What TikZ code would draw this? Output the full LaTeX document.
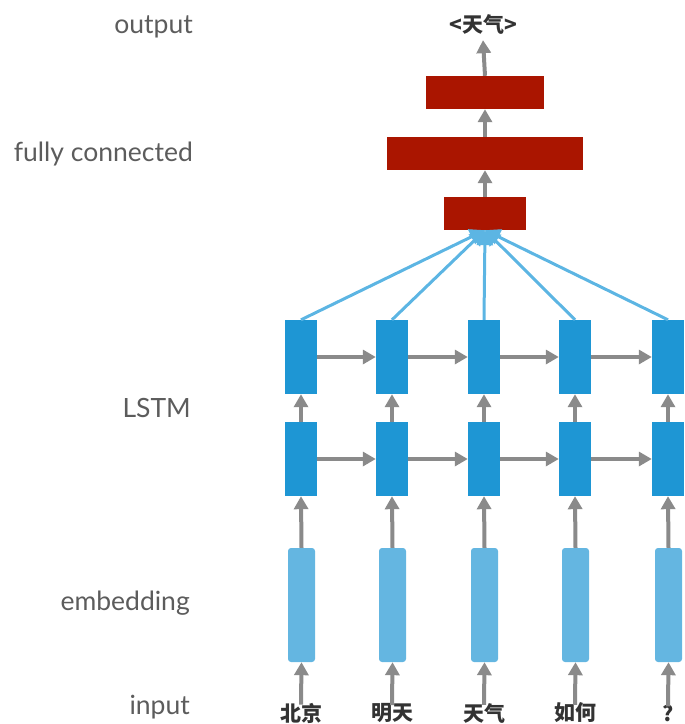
\documentclass[tikz,border=0pt]{standalone}
\usepackage{fontspec}
\setmainfont{Lato}
\newfontfamily\cjk{Noto Sans CJK SC}
\usetikzlibrary{arrows.meta}
\definecolor{fcred}{HTML}{AA1500}
\definecolor{lstmblue}{HTML}{1E96D4}
\definecolor{embblue}{HTML}{64B6E1}
\definecolor{linkblue}{HTML}{5CB5E3}
\definecolor{arrowgray}{HTML}{8A8A8A}
\definecolor{labelgray}{HTML}{5C5C5C}
\definecolor{wordgray}{HTML}{333333}
\begin{document}
\begin{tikzpicture}[x=1pt,y=-1pt,
  fcbox/.style={fill=fcred,draw=none,minimum height=33pt,inner sep=0pt},
  cell/.style={fill=lstmblue,draw=none,minimum width=32pt,minimum height=74pt,inner sep=0pt},
  embbox/.style={fill=embblue,draw=none,minimum width=27pt,minimum height=114pt,inner sep=0pt,rounded corners=3pt},
  layername/.style={anchor=east,text=labelgray,inner sep=0pt,font=\fontsize{26.5pt}{29pt}\selectfont},
  word/.style={text=wordgray,font=\cjk\bfseries\fontsize{21pt}{24pt}\selectfont,inner sep=0pt},
  flow/.style={draw=arrowgray,line width=4pt,-{Triangle[length=13pt,width=14pt]}},
  link/.style={draw=linkblue,line width=3pt,-{Triangle[length=15pt,width=16pt]}}]
\useasboundingbox (0,0) rectangle (685,724);

% layer names
\node[layername] (lout) at (193,27) {output};
\node[layername] (lfc) at (193,154) {fully connected};
\node[layername] (llstm) at (191,408) {LSTM};
\node[layername] (lemb) at (190,603) {embedding};
\node[layername] (lin) at (190,707) {input};

% fully connected stack and output
\node[word] (out) at (483,24) {<天气>};
\node[fcbox,minimum width=118pt] (fc1) at (485,92.5) {};
\node[fcbox,minimum width=196pt] (fc2) at (485,153.5) {};
\node[fcbox,minimum width=82pt] (fc3) at (485,213.5) {};

% columns: index / x / word
\foreach \i/\x/\w in {1/301/北京,2/392/明天,3/484/天气,4/575/如何,5/668/?}{
  \node[cell] (t\i) at (\x,357) {};
  \node[cell] (b\i) at (\x,459) {};
  \node[embbox] (e\i) at (\x+0.5,605) {};
  \node[word] (w\i) at (\x,713) {\w};
}

% bottom-up arrows in each column
\foreach \i in {1,...,5}{
  \draw[flow] ([yshift=-2pt]w\i.north) -- (e\i.south);
  \draw[flow] (e\i.north) -- (b\i.south);
  \draw[flow] (b\i.north) -- (t\i.south);
  \draw[link] (t\i.north) -- (fc3.south);
}

% recurrent arrows
\foreach \i/\j in {1/2,2/3,3/4,4/5}{
  \draw[flow] (t\i.east) -- (t\j.west);
  \draw[flow] (b\i.east) -- (b\j.west);
}

% through the dense layers
\draw[flow] (fc3.north) -- (fc2.south);
\draw[flow] (fc2.north) -- (fc1.south);
\draw[flow] (fc1.north) -- ([yshift=-6pt]out.south);
\end{tikzpicture}
\end{document}
